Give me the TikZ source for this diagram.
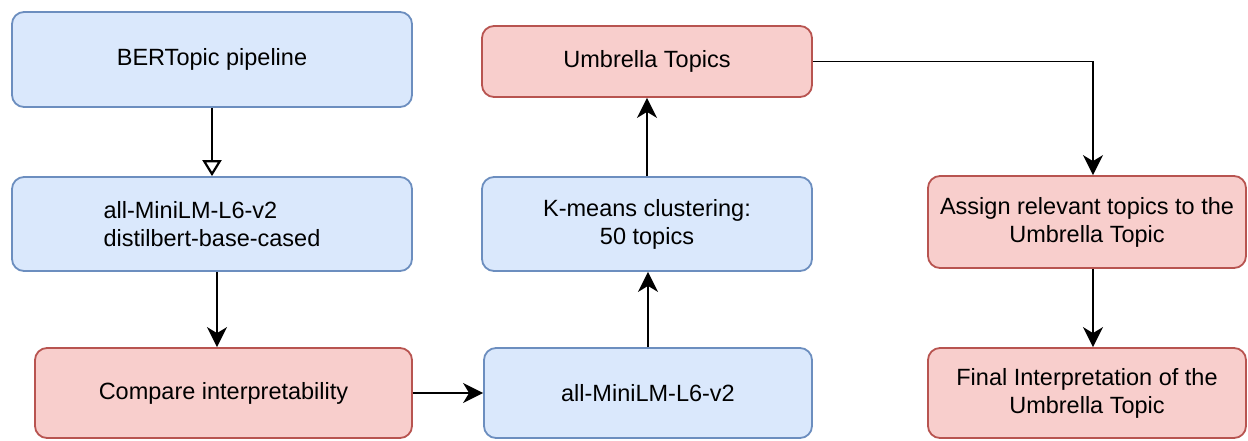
\documentclass[tikz,border=0pt]{standalone}
\usepackage{fontspec}
\setmainfont{Liberation Sans}
\usetikzlibrary{arrows.meta}
\definecolor{bfill}{HTML}{DAE8FC}
\definecolor{bdraw}{HTML}{6C8EBF}
\definecolor{rfill}{HTML}{F8CECC}
\definecolor{rdraw}{HTML}{B85450}
\begin{document}
\begin{tikzpicture}[x=1pt,y=-1pt,
  box/.style={rectangle, rounded corners=12pt, line width=1.8pt, inner sep=0pt,
    font=\fontsize{23.5}{28}\selectfont, align=center},
  bluebox/.style={box, fill=bfill, draw=bdraw},
  redbox/.style={box, fill=rfill, draw=rdraw},
  conn/.style={line width=2.2pt, -{Stealth[length=20pt,width=20pt,inset=6pt]}},
  thinconn/.style={line width=1.8pt, -{Stealth[length=20pt,width=20pt,inset=6pt]}},
  openconn/.style={line width=2.2pt, -{Triangle[open,length=16pt,width=19pt,line width=2.2pt]}}
]
\useasboundingbox (0,0) rectangle (1248,440);
\fill[white] (0,0) rectangle (1248,440);

\node[bluebox, minimum width=400pt, minimum height=95pt] (bert) at (212,59.5) {BERTopic pipeline};
\node[bluebox, minimum width=400pt, minimum height=94pt, align=left] (models) at (212,224) {all-MiniLM-L6-v2\\distilbert-base-cased};
\node[redbox, minimum width=377pt, minimum height=90pt] (cmp) at (223.5,393) {Compare interpretability};
\node[bluebox, minimum width=328pt, minimum height=90pt] (mini) at (648,393) {all-MiniLM-L6-v2};
\node[bluebox, minimum width=330pt, minimum height=94pt] (km) at (647,224) {K-means clustering:\\50 topics};
\node[redbox, minimum width=330pt, minimum height=71pt] (umb) at (647,61.5) {Umbrella Topics};
\node[redbox, minimum width=318pt, minimum height=92pt] (assign) at (1087,222) {Assign relevant topics to the\\Umbrella Topic};
\node[redbox, minimum width=318pt, minimum height=90pt] (final) at (1087,393) {Final Interpretation of the\\Umbrella Topic};

\draw[openconn] (bert.south) -- (models.north);
\draw[conn] (models.south -| 217,0) -- (cmp.north -| 217,0);
\draw[conn] (cmp.east) -- (mini.west);
\draw[conn] (mini.north) -- (km.south -| mini.north);
\draw[conn] (km.north) -- (umb.south);
\draw[thinconn] (umb.east) -| (assign.north -| 1093,0);
\draw[conn] (assign.south -| 1093,0) -- (final.north -| 1093,0);
\end{tikzpicture}
\end{document}
